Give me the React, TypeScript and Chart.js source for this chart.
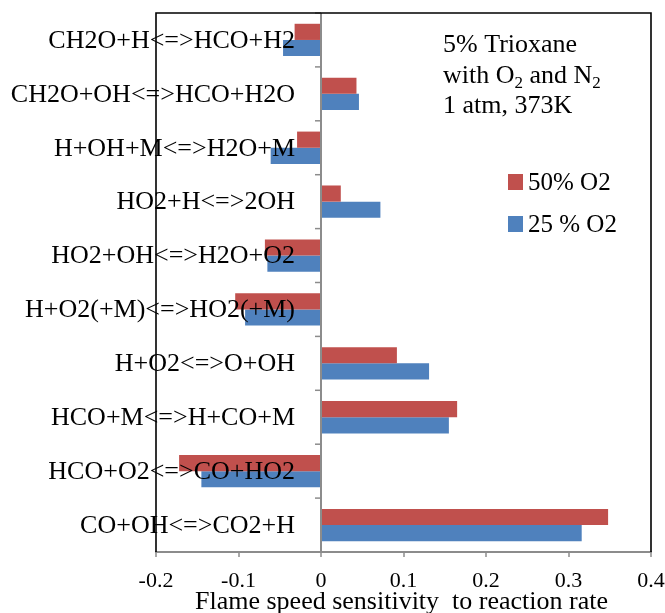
import React, { useEffect, useRef } from "react";
import { Chart, registerables } from "chart.js";

Chart.register(...registerables);

const categories = [
  "CH2O+H<=>HCO+H2",
  "CH2O+OH<=>HCO+H2O",
  "H+OH+M<=>H2O+M",
  "HO2+H<=>2OH",
  "HO2+OH<=>H2O+O2",
  "H+O2(+M)<=>HO2(+M)",
  "H+O2<=>O+OH",
  "HCO+M<=>H+CO+M",
  "HCO+O2<=>CO+HO2",
  "CO+OH<=>CO2+H",
];

const o2_50 = [-0.032, 0.043, -0.029, 0.024, -0.068, -0.104, 0.092, 0.165, -0.172, 0.348];
const o2_25 = [-0.046, 0.046, -0.061, 0.072, -0.065, -0.092, 0.131, 0.155, -0.145, 0.316];

const seriesLabels = ["50% O2", "25 % O2"];
const seriesColors = ["#C0504D", "#4F81BD"];

const xTicks = [-0.2, -0.1, 0, 0.1, 0.2, 0.3, 0.4];
const axisTitle = "Flame speed sensitivity  to reaction rate";
const noteLine1 = "5% Trioxane";
const noteLine3 = "1 atm, 373K";

const SERIF = '"Liberation Serif", "Times New Roman", serif';

const overlayPlugin = {
  id: "overlayPlugin",
  afterDatasetsDraw(chart: any) {
    const { ctx, chartArea: a, scales } = chart;
    const x = scales.x;
    const y = scales.y;
    const x0 = x.getPixelForValue(0);
    const labels: string[] = y.getLabels();
    const n = labels.length;

    ctx.save();
    // y tick marks at category boundaries along zero line
    ctx.strokeStyle = "#8c8c8c";
    ctx.lineWidth = 1.5;
    for (let i = 0; i <= n; i++) {
      let yb;
      if (i === 0) yb = a.top;
      else if (i === n) yb = a.bottom;
      else yb = (y.getPixelForValue(i - 1) + y.getPixelForValue(i)) / 2;
      ctx.beginPath();
      ctx.moveTo(x0 - 6, yb);
      ctx.lineTo(x0, yb);
      ctx.stroke();
    }

    // frame (left, top, right)
    ctx.strokeStyle = "#000";
    ctx.lineWidth = 1.6;
    ctx.beginPath();
    ctx.moveTo(a.left, a.bottom);
    ctx.lineTo(a.left, a.top);
    ctx.lineTo(a.right, a.top);
    ctx.lineTo(a.right, a.bottom);
    ctx.stroke();

    // category labels
    ctx.fillStyle = "#000";
    ctx.font = "26px " + SERIF;
    ctx.textAlign = "right";
    ctx.textBaseline = "middle";
    for (let i = 0; i < n; i++) {
      ctx.fillText(labels[i], x0 - 26, y.getPixelForValue(i) + 1);
    }

    // annotation text
    ctx.textAlign = "left";
    ctx.textBaseline = "alphabetic";
    const big = "26px " + SERIF;
    const small = "17px " + SERIF;
    const nx = 443;
    ctx.font = big;
    ctx.fillText(noteLine1, nx, 52);
    let cx = nx;
    const parts: [string, boolean][] = [
      ["with O", false],
      ["2", true],
      [" and N", false],
      ["2", true],
    ];
    for (const [t, sub] of parts) {
      ctx.font = sub ? small : big;
      ctx.fillText(t, cx, sub ? 88 : 83);
      cx += ctx.measureText(t).width;
    }
    ctx.font = big;
    ctx.fillText(noteLine3, nx, 113);

    // legend
    const ds = chart.data.datasets;
    const legY = [182, 224];
    ctx.font = "25px " + SERIF;
    ctx.textBaseline = "middle";
    for (let i = 0; i < ds.length; i++) {
      ctx.fillStyle = ds[i].backgroundColor;
      ctx.fillRect(508, legY[i] - 8, 15, 16);
      ctx.fillStyle = "#000";
      ctx.fillText(ds[i].label, 528, legY[i] + 1);
    }

    // axis title
    ctx.font = "26px " + SERIF;
    ctx.textAlign = "center";
    ctx.textBaseline = "alphabetic";
    ctx.fillText(axisTitle, (a.left + a.right) / 2 - 2, 609);
    ctx.restore();
  },
};

export default function App() {
  const ref = useRef<HTMLCanvasElement | null>(null);

  useEffect(() => {
    if (!ref.current) return;
    const chart = new Chart(ref.current, {
      type: "bar",
      data: {
        labels: categories,
        datasets: [
          {
            label: seriesLabels[0],
            data: o2_50,
            backgroundColor: seriesColors[0],
            borderWidth: 0,
            categoryPercentage: 0.6,
            barPercentage: 1.0,
          },
          {
            label: seriesLabels[1],
            data: o2_25,
            backgroundColor: seriesColors[1],
            borderWidth: 0,
            categoryPercentage: 0.6,
            barPercentage: 1.0,
          },
        ],
      },
      options: {
        indexAxis: "y",
        animation: false,
        responsive: false,
        maintainAspectRatio: false,
        layout: { padding: { left: 156, right: 14, top: 13, bottom: 0 } },
        plugins: {
          legend: { display: false },
          tooltip: { enabled: false },
        },
        scales: {
          x: {
            type: "linear",
            min: xTicks[0],
            max: xTicks[xTicks.length - 1],
            afterBuildTicks: (scale: any) => {
              scale.ticks = xTicks.map((v) => ({ value: v }));
            },
            afterFit: (scale: any) => {
              scale.height = 61;
              scale.paddingLeft = 0;
              scale.paddingRight = 0;
            },
            ticks: {
              color: "#000",
              font: { family: SERIF, size: 22 },
              padding: 11,
              maxRotation: 0,
              callback: (v: any) => String(Math.round(Number(v) * 10) / 10),
            },
            grid: {
              color: (c: any) => (c.tick && Math.abs(c.tick.value) < 1e-9 ? "#8c8c8c" : "rgba(0,0,0,0)"),
              lineWidth: 2,
              tickColor: "#8c8c8c",
              tickLength: 5,
              tickWidth: 1.5,
              drawOnChartArea: true,
            },
            border: { display: true, color: "#8c8c8c", width: 2 },
          },
          y: {
            type: "category",
            display: false,
          },
        },
      },
      plugins: [overlayPlugin],
    } as any);
    return () => chart.destroy();
  }, []);

  return (
    <div style={{ position: "absolute", left: 0, top: 0, width: 665, height: 613, background: "#fff" }}>
      <canvas ref={ref} width={665} height={613} />
    </div>
  );
}
